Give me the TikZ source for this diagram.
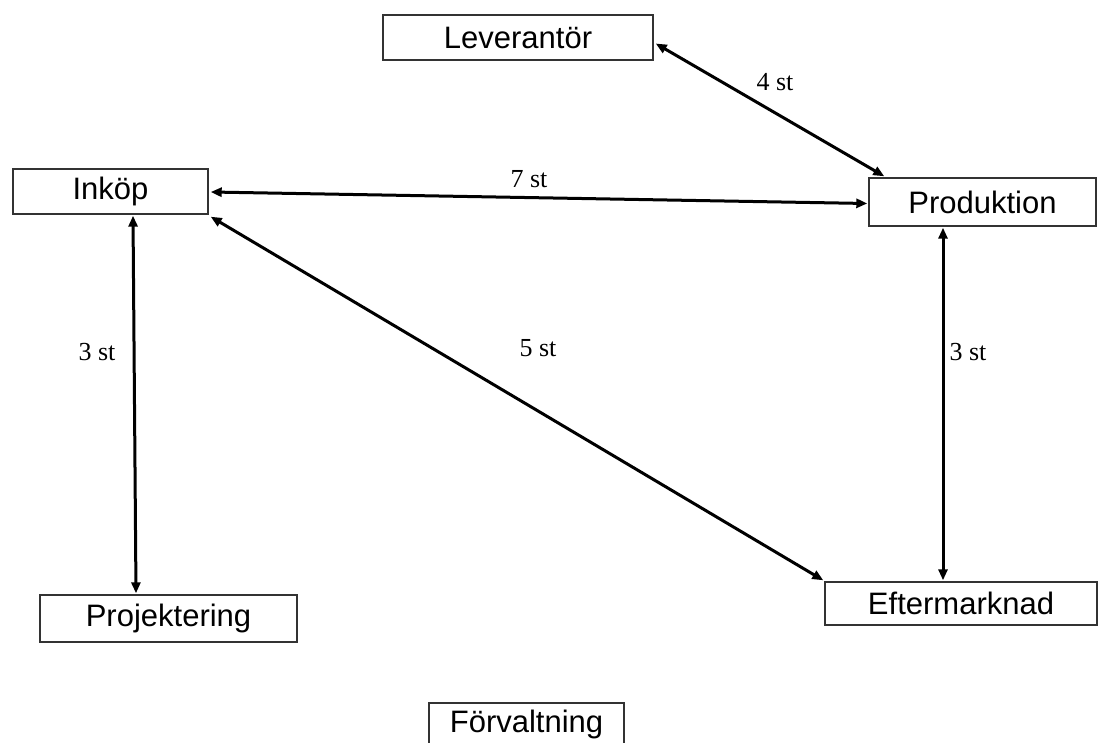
\documentclass[tikz,border=0pt]{standalone}
\usepackage{fontspec}
\setmainfont{Liberation Serif}
\newfontfamily\boxfont{Liberation Sans}
\usetikzlibrary{arrows.meta,calc}
\begin{document}
\begin{tikzpicture}[x=1pt,y=-1pt,
  unit/.style={draw=black!80,line width=1.4pt,rectangle,inner sep=0pt,font=\boxfont\fontsize{31}{31}\selectfont,fill=white},
  link/.style={line width=3pt,{Triangle[length=11pt,width=9pt]}-{Triangle[length=11pt,width=9pt]}},
  lbl/.style={font=\fontsize{26}{26}\selectfont}]
\useasboundingbox (0,0) rectangle (1098,742);
\node[unit,minimum width=270pt,minimum height=45pt] (lev) at (518,37.5) {Leverantör};
\node[unit,minimum width=195pt,minimum height=45pt] (ink) at (110.5,191.5) {Inköp};
\node[unit,minimum width=227pt,minimum height=48pt] (prod) at (982.5,202) {Produktion};
\node[unit,minimum width=257pt,minimum height=47pt] (proj) at (168.5,618.5) {Projektering};
\node[unit,minimum width=272pt,minimum height=43pt] (eft) at (961,603.5) {Eftermarknad};
\node[unit,minimum width=195pt,minimum height=42pt] (forv) at (526.5,724) {Förvaltning};
\draw[link] ($(lev.east)+(2,6)$) -- ($(prod.north west)+(16,-1)$);
\draw[link] ($(ink.east)+(2,0.5)$) -- ($(prod.west)+(-1,1.5)$);
\draw[link] ($(ink.south east)+(2,2)$) -- ($(eft.north west)+(-1,-1)$);
\draw[link] ($(ink.south)+(22.5,1)$) -- ($(proj.north)+(-32.5,-1)$);
\draw[link] ($(prod.south)+(-39.5,1)$) -- ($(eft.north)+(-18,-1)$);
\node[lbl] (l1) at (775,82) {4 st};
\node[lbl] (l2) at (529,179) {7 st};
\node[lbl] (l3) at (97,352) {3 st};
\node[lbl] (l4) at (538,348) {5 st};
\node[lbl] (l5) at (968,352) {3 st};
\end{tikzpicture}
\end{document}
